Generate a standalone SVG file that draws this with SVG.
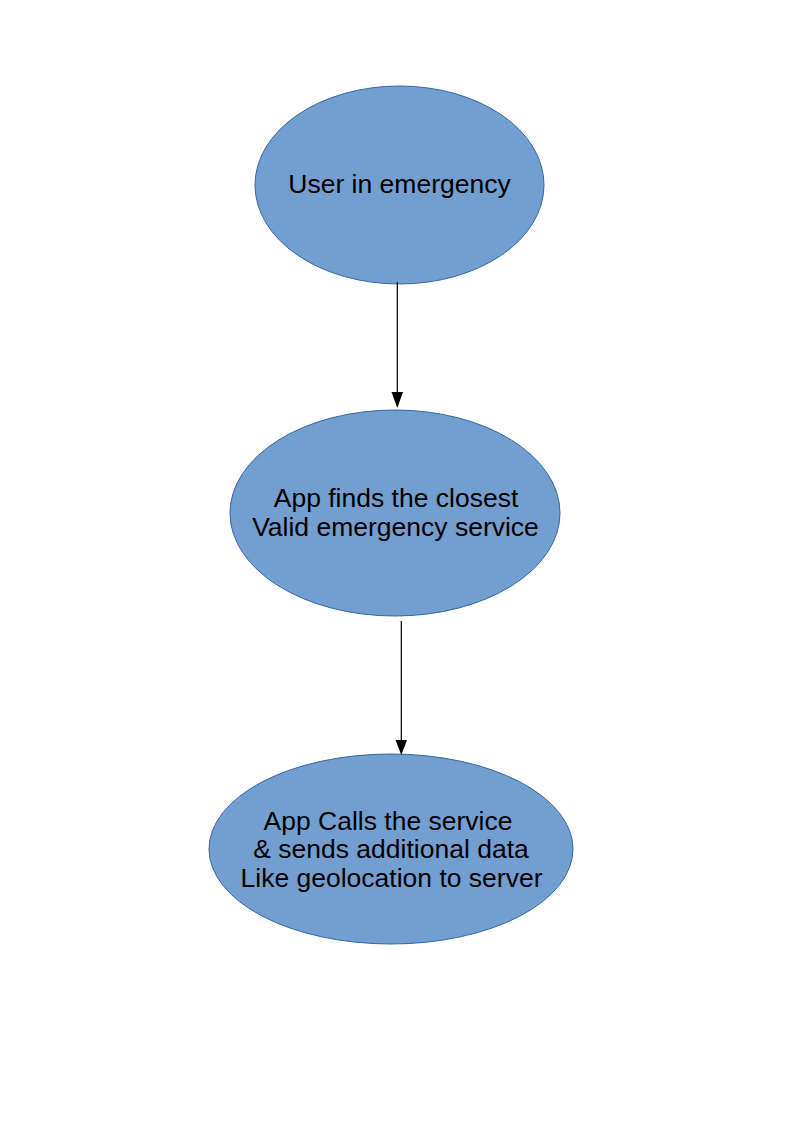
<svg xmlns="http://www.w3.org/2000/svg" width="794" height="1123" viewBox="0 0 794 1123">
<style>
.node ellipse{fill:#729fcf;stroke:#3465a4;stroke-width:1}
.node text{font-family:"Liberation Sans",Arial,sans-serif;font-size:26.5px;fill:#000;text-anchor:middle}
.conn line{stroke:#000;stroke-width:1.2}
</style>
<rect width="794" height="1123" fill="#fff"/>
<g id="n1" class="node">
<ellipse cx="399.5" cy="185" rx="144.5" ry="99"/>
<text x="399.5" y="193">User in emergency</text>
</g>
<g id="n2" class="node">
<ellipse cx="395" cy="513" rx="165" ry="103"/>
<text x="396" y="507">App finds the closest</text>
<text x="395.5" y="536">Valid emergency service</text>
</g>
<g id="n3" class="node">
<ellipse cx="391" cy="849" rx="182" ry="95"/>
<text x="388" y="830">App Calls the service</text>
<text x="391" y="858">&amp; sends additional data</text>
<text x="391.5" y="887">Like geolocation to server</text>
</g>
<g id="connectors" class="conn">
<line x1="397.3" y1="282" x2="397.3" y2="392"/>
<path d="M391.5,392 L403,392 L397.3,408 Z" fill="#000"/>
<line x1="401.3" y1="621" x2="401.3" y2="740"/>
<path d="M395.5,740 L407,740 L401.3,755 Z" fill="#000"/>
</g>
</svg>
